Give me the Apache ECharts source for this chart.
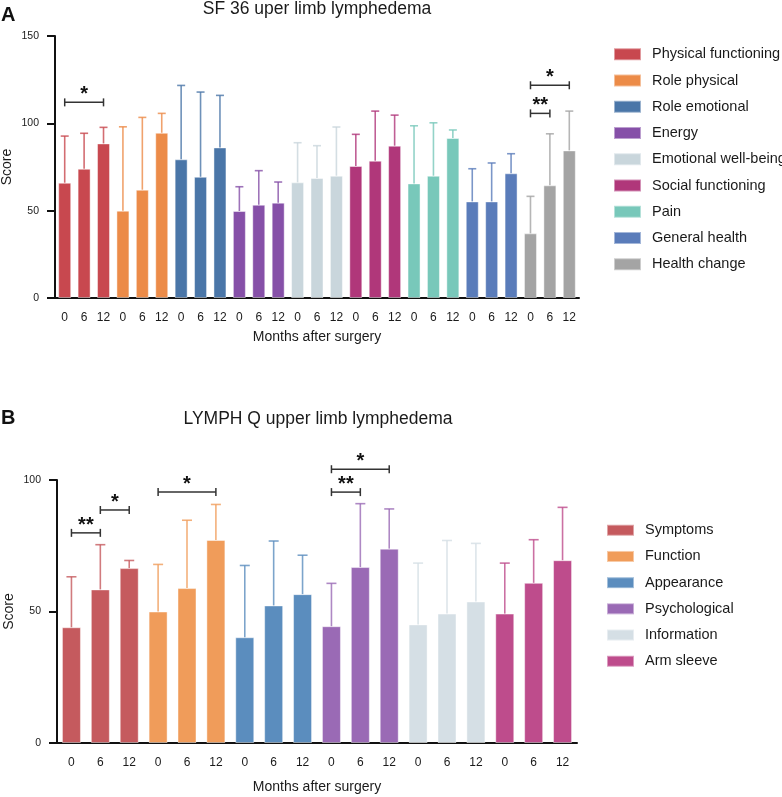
<!DOCTYPE html>
<html><head><meta charset="utf-8">
<script src="https://cdn.jsdelivr.net/npm/echarts@6/dist/echarts.min.js"></script>
<style>html,body{margin:0;padding:0;background:#fff}#c{width:782px;height:797px}</style>
</head><body><div id="c"></div>
<script>
// ---------- DATA ----------
const months = ['0', '6', '12'];

const sfTitle = 'SF 36 uper limb lymphedema';
const sfGroups = ['Physical functioning', 'Role physical', 'Role emotional', 'Energy', 'Emotional well-being', 'Social functioning', 'Pain', 'General health', 'Health change'];
const sfColors = ['#C8484F', '#EC8B48', '#4A76A8', '#8650A8', '#C9D6DC', '#B0377A', '#78C8BA', '#5A7CBA', '#A4A4A4'];
const sfMeans = [[66, 74, 88.5], [50, 62, 94.6], [79.4, 69.4, 86.2], [49.8, 53.4, 54.6], [66.2, 68.7, 70], [75.6, 78.6, 87.2], [65.6, 70, 91.6], [55.3, 55.3, 71.4], [37, 64.5, 84.5]];
const sfUpper = [[92.7, 94.3, 97.7], [98, 103.4, 105.7], [121.7, 117.9, 116], [63.7, 72.9, 66.4], [88.9, 87.2, 97.9], [93.7, 107, 104.7], [98.6, 100.3, 96.2], [74, 77.3, 82.6], [58.2, 94, 107]];
// [from bar index, to bar index, level, label]
const sfSig = [[0, 2, 112, '*'], [24, 26, 121.8, '*'], [24, 25, 105.7, '**']];
const sfTicks = [0, 50, 100, 150];

const lqTitle = 'LYMPH Q upper limb lymphedema';
const lqGroups = ['Symptoms', 'Function', 'Appearance', 'Psychological', 'Information', 'Arm sleeve'];
const lqColors = ['#C55A5E', '#F09C5A', '#5B8DBE', '#9A6AB5', '#D5DFE5', '#BE4C8C'];
const lqMeans = [[44, 58.4, 66.5], [50, 58.9, 77.2], [40.2, 52.3, 56.6], [44.4, 66.9, 73.9], [45.1, 49.2, 53.8], [49.2, 60.9, 69.5]];
const lqUpper = [[63.2, 75.4, 69.4], [67.9, 84.7, 90.7], [67.5, 76.8, 71.4], [60.7, 91, 89], [68.4, 77, 75.9], [68.4, 77.3, 89.6]];
const lqSig = [[0, 1, 79.9, '**'], [1, 2, 88.6, '*'], [3, 5, 95.4, '*'], [9, 11, 104.1, '*'], [9, 10, 95.4, '**']];
const lqTicks = [0, 50, 100];

const xName = 'Months after surgery';
const yName = 'Score';

// ---------- BUILD ----------
const FONT = 'Liberation Sans, Arial, Helvetica, sans-serif';
const TXT = '#1a1a1a';

function categories(groups) {
  const c = [];
  groups.forEach((g, gi) => months.forEach(m => c.push(gi + '|' + m)));
  return c;
}

function buildSeries(groups, colors, means, upper, sig, idx, barW, capHalf) {
  const n = groups.length * months.length;
  const series = [];
  groups.forEach((g, gi) => {
    const data = new Array(n).fill('-');
    months.forEach((m, mi) => { data[gi * 3 + mi] = means[gi][mi]; });
    series.push({
      type: 'bar', name: g, xAxisIndex: idx, yAxisIndex: idx,
      data: data, barWidth: barW, barGap: '-100%',
      itemStyle: { color: colors[gi], borderColor: 'rgba(255,255,255,0.45)', borderWidth: 1 },
      emphasis: { disabled: true }, z: 2
    });
  });
  groups.forEach((g, gi) => {
    const data = months.map((m, mi) => [gi * 3 + mi, means[gi][mi], upper[gi][mi]]);
    const col = colors[gi];
    series.push({
      type: 'custom', name: 'err' + idx + '_' + gi, xAxisIndex: idx, yAxisIndex: idx,
      data: data, z: 3, silent: true,
      encode: { x: 0, y: [1, 2] },
      renderItem: function (params, api) {
        const p0 = api.coord([api.value(0), api.value(1)]);
        const p1 = api.coord([api.value(0), api.value(2)]);
        const st = { stroke: col, lineWidth: 1.6, opacity: 0.8 };
        return {
          type: 'group', children: [
            { type: 'line', shape: { x1: p0[0], y1: p0[1], x2: p1[0], y2: p1[1] }, style: st },
            { type: 'line', shape: { x1: p1[0] - capHalf, y1: p1[1], x2: p1[0] + capHalf, y2: p1[1] }, style: st }
          ]
        };
      }
    });
  });
  series.push({
    type: 'custom', name: 'sig' + idx, xAxisIndex: idx, yAxisIndex: idx,
    data: sig, z: 5, silent: true, clip: false,
    encode: { x: [0, 1], y: 2 },
    renderItem: function (params, api) {
      const a = api.coord([api.value(0), api.value(2)]);
      const b = api.coord([api.value(1), api.value(2)]);
      const label = sig[params.dataIndex][3];
      const st = { stroke: '#333', lineWidth: 1.5 };
      return {
        type: 'group', children: [
          { type: 'line', shape: { x1: a[0], y1: a[1], x2: b[0], y2: b[1] }, style: st },
          { type: 'line', shape: { x1: a[0], y1: a[1] - 4, x2: a[0], y2: a[1] + 4 }, style: st },
          { type: 'line', shape: { x1: b[0], y1: b[1] - 4, x2: b[0], y2: b[1] + 4 }, style: st },
          { type: 'text', style: { text: label, x: (a[0] + b[0]) / 2, y: a[1] + 2.5, align: 'center', verticalAlign: 'bottom', font: 'bold 20px ' + FONT, fill: '#111' } }
        ]
      };
    }
  });
  return series;
}

function xAxis(idx, groups) {
  return {
    type: 'category', gridIndex: idx, data: categories(groups),
    name: xName, nameLocation: 'middle', nameGap: idx === 0 ? 32 : 37,
    nameTextStyle: { fontFamily: FONT, fontSize: 14, color: TXT },
    axisLine: { lineStyle: { color: '#111', width: 2 } },
    axisTick: { alignWithLabel: true, length: 7, lineStyle: { color: '#111', width: 2 } },
    axisLabel: { formatter: v => v.split('|')[1], interval: 0, margin: 14, fontFamily: FONT, fontSize: 12, color: TXT },
    splitLine: { show: false }
  };
}
function yAxis(idx, ticks) {
  return {
    type: 'value', gridIndex: idx, min: ticks[0], max: ticks[ticks.length - 1], interval: ticks[1] - ticks[0],
    name: yName, nameLocation: 'middle', nameGap: 41, nameMoveOverlap: false,
    nameTextStyle: { fontFamily: FONT, fontSize: 14, color: TXT },
    axisLine: { show: true, lineStyle: { color: '#111', width: 2 } },
    axisTick: { show: true, length: 8, lineStyle: { color: '#111', width: 2 } },
    axisLabel: { margin: 16, fontFamily: FONT, fontSize: 10.5, color: TXT },
    splitLine: { show: false }
  };
}

const option = {
  animation: false,
  backgroundColor: '#fff',
  textStyle: { fontFamily: FONT },
  title: [
    { text: 'A', left: 1, top: 5, textStyle: { fontFamily: FONT, fontSize: 20, fontWeight: 'bold', color: '#111' }, padding: 0 },
    { text: sfTitle, left: 317, top: 0, textAlign: 'center', textStyle: { fontFamily: FONT, fontSize: 17.5, fontWeight: 'normal', color: TXT }, padding: 0 },
    { text: 'B', left: 1, top: 408, textStyle: { fontFamily: FONT, fontSize: 20, fontWeight: 'bold', color: '#111' }, padding: 0 },
    { text: lqTitle, left: 318, top: 410, textAlign: 'center', textStyle: { fontFamily: FONT, fontSize: 17.5, fontWeight: 'normal', color: TXT }, padding: 0 }
  ],
  legend: [
    { data: sfGroups, orient: 'vertical', left: 613, top: 46.75, padding: 0, itemWidth: 27, itemHeight: 12, itemGap: 11.25, icon: 'rect', selectedMode: false,
      textStyle: { fontFamily: FONT, fontSize: 14.5, color: TXT, lineHeight: 14.5, padding: [0, 0, 0, 6] } },
    { data: lqGroups, orient: 'vertical', left: 606, top: 522.75, padding: 0, itemWidth: 27, itemHeight: 11, itemGap: 11.2, icon: 'rect', selectedMode: false,
      textStyle: { fontFamily: FONT, fontSize: 14.5, color: TXT, lineHeight: 14.5, padding: [0, 0, 0, 6] } }
  ],
  grid: [
    { left: 55, top: 36, width: 524, height: 262, containLabel: false, outerBoundsMode: 'none' },
    { left: 57, top: 480, width: 520, height: 263, containLabel: false, outerBoundsMode: 'none' }
  ],
  xAxis: [xAxis(0, sfGroups), xAxis(1, lqGroups)],
  yAxis: [yAxis(0, sfTicks), yAxis(1, lqTicks)],
  series: [].concat(
    buildSeries(sfGroups, sfColors, sfMeans, sfUpper, sfSig, 0, 13, 4),
    buildSeries(lqGroups, lqColors, lqMeans, lqUpper, lqSig, 1, 19, 5)
  )
};

const chart = echarts.init(document.getElementById('c'), null, { renderer: 'canvas' });
chart.setOption(option);
</script>
</body></html>
